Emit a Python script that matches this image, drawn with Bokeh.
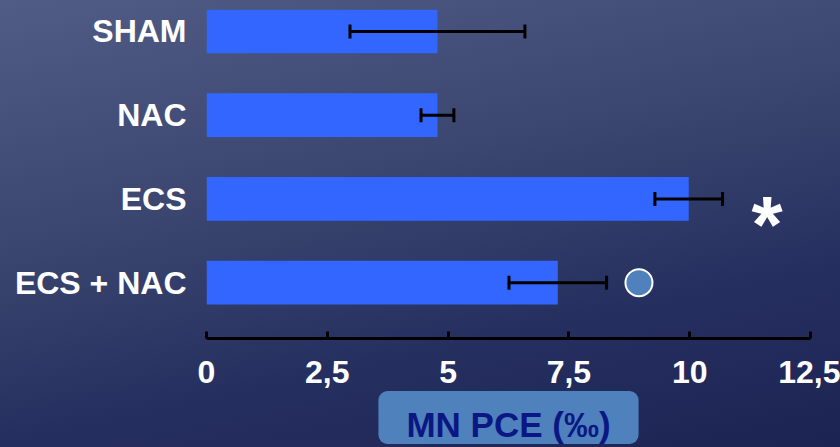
from bokeh.plotting import figure
from bokeh.models import Range1d, FixedTicker, Whisker, TeeHead, ColumnDataSource, Title
from bokeh.core.properties import value
from bokeh.embed import file_html
from bokeh.resources import INLINE

# Groups (top to bottom) and micronucleated PCE frequency (‰)
groups = ["SHAM", "NAC", "ECS", "ECS + NAC"]
means = [4.78, 4.78, 9.98, 7.27]
errors = [1.81, 0.34, 0.70, 1.01]

# x-axis ticks
tick_values = [0, 2.5, 5, 7.5, 10, 12.5]
tick_labels = ["0", "2,5", "5", "7,5", "10", "12,5"]

# significance markers: "*" vs SHAM, circle vs ECS
star_group, star_x = "ECS", 11.6
circle_group, circle_x = "ECS + NAC", 8.95

# numeric positions for each group, top bar highest
pos = {g: len(groups) - 1 - i for i, g in enumerate(groups)}
ys = [pos[g] for g in groups]

src = ColumnDataSource(dict(
    y=ys, mean=means,
    lower=[m - e for m, e in zip(means, errors)],
    upper=[m + e for m, e in zip(means, errors)],
))

p = figure(width=840, height=447, output_backend="svg", toolbar_location=None,
           x_range=Range1d(0, 12.5), y_range=Range1d(-0.667, 3.369),
           min_border_left=206, min_border_right=30,
           min_border_top=0, min_border_bottom=108)
p.background_fill_color = None
p.border_fill_color = None
p.outline_line_color = None
p.styles = {"background": "linear-gradient(168deg, #505c86 0%, #3a466f 40%, #263060 70%, #1b2352 100%)"}
p.grid.visible = False

p.hbar(y="y", left=0, right="mean", height=0.52, source=src,
       fill_color="#3366ff", line_color=None)

whisker = Whisker(source=src, base="y", lower="lower", upper="upper",
                  dimension="width", line_color="black", line_width=3,
                  lower_head=TeeHead(size=14, line_width=3, line_color="black"),
                  upper_head=TeeHead(size=14, line_width=3, line_color="black"))
whisker.level = "overlay"
p.add_layout(whisker)

p.text(x=[star_x], y=[pos[star_group] - 0.3], text=["*"],
       text_font=value("Liberation Sans"), text_font_style="bold",
       text_font_size="80px", text_color="white",
       text_align="center", text_baseline="middle")

p.scatter(x=[circle_x], y=[pos[circle_group]], size=27,
          fill_color="#4f81bd", line_color="white", line_width=2)

xa = p.xaxis[0]
xa.ticker = FixedTicker(ticks=tick_values)
xa.major_label_overrides = {v: l for v, l in zip(tick_values, tick_labels)}
xa.minor_tick_line_color = None
xa.axis_line_color = "black"
xa.axis_line_width = 3
xa.major_tick_line_color = "black"
xa.major_tick_line_width = 3
xa.major_tick_in = 7
xa.major_tick_out = 0
xa.major_label_standoff = 22
xa.major_label_text_color = "white"
xa.major_label_text_font = "Liberation Sans"
xa.major_label_text_font_style = "bold"
xa.major_label_text_font_size = "32px"

ya = p.yaxis[0]
ya.ticker = FixedTicker(ticks=ys)
ya.major_label_overrides = {pos[g]: g for g in groups}
ya.axis_line_color = None
ya.major_tick_line_color = None
ya.minor_tick_line_color = None
ya.major_tick_out = 0
ya.major_tick_in = 0
ya.major_label_standoff = 20
ya.major_label_text_color = "white"
ya.major_label_text_font = "Liberation Sans"
ya.major_label_text_font_style = "bold"
ya.major_label_text_font_size = "32px"

# axis title in a rounded box under the tick labels (padding: left, right, top, bottom)
p.add_layout(Title(text="MN PCE (‰)", align="center",
                   text_font="Liberation Sans", text_font_style="bold",
                   text_font_size="35px", text_color="#0b1883",
                   background_fill_color="#4f81bd",
                   padding=(28, 28, 14, 0), border_radius=9,
                   standoff=7, offset=0), "below")

open("out.html", "w").write(file_html(p, INLINE))
